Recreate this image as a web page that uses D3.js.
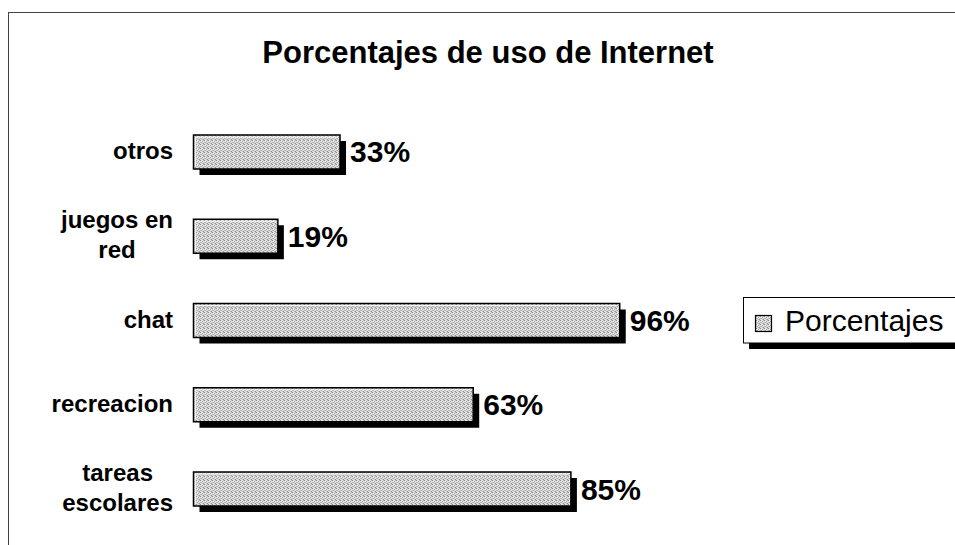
<!DOCTYPE html>
<html>
<head>
<meta charset="utf-8">
<script src="https://cdn.jsdelivr.net/npm/d3@7/dist/d3.min.js"></script>
<style>
  html, body { margin: 0; padding: 0; background: #fff; }
  svg { display: block; }
  text { font-family: "Liberation Sans", Arial, sans-serif; fill: #000; }
</style>
</head>
<body>
<svg id="chart" width="955" height="545"></svg>
<script>
// ---- data (top to bottom as drawn) ----
const categories = ["otros", "juegos en red", "chat", "recreacion", "tareas escolares"];
const values = [33, 19, 96, 63, 85];
const valueLabels = ["33%", "19%", "96%", "63%", "85%"];
const seriesName = "Porcentajes";
const title = "Porcentajes de uso de Internet";

const svg = d3.select("#chart");

// dither-like gray pattern (fixed 4x4 ordered stipple)
const defs = svg.append("defs");
const pat = defs.append("pattern").attr("id", "dither")
  .attr("width", 4).attr("height", 4).attr("patternUnits", "userSpaceOnUse");
pat.append("rect").attr("width", 4).attr("height", 4).attr("fill", "#e2e2e2");
const dots = [[0,0,"#8a8a8a"],[2,1,"#9c9c9c"],[1,2,"#a4a4a4"],[3,3,"#909090"],[2,3,"#c0c0c0"],[0,2,"#b4b4b4"],[3,0,"#bcbcbc"],[1,1,"#f4f4f4"]];
dots.forEach(d => pat.append("rect").attr("x", d[0]).attr("y", d[1]).attr("width", 1).attr("height", 1).attr("fill", d[2]));

// chart frame
svg.append("rect").attr("x", 8.5).attr("y", 12.5).attr("width", 1000).attr("height", 600)
  .attr("fill", "none").attr("stroke", "#444").attr("stroke-width", 1);

// title
svg.append("text").attr("x", 488).attr("y", 63).attr("text-anchor", "middle")
  .style("font-size", "31px").style("font-weight", "bold").text(title);

// scales
const x = d3.scaleLinear().domain([0, 100]).range([193.5, 637.5]);
const y = d3.scaleBand().domain(categories).range([84.75, 556.25]).padding(0.5964);

const shadow = 6;
const g = svg.append("g");

categories.forEach((c, i) => {
  const y0 = y(c), h = y.bandwidth(), x0 = x(0), w = x(values[i]) - x(0);
  // shadow
  g.append("rect").attr("x", x0 + shadow).attr("y", y0 + shadow)
    .attr("width", w).attr("height", h).attr("fill", "#000");
  // bar
  g.append("rect").attr("x", x0).attr("y", y0).attr("width", w).attr("height", h)
    .attr("fill", "url(#dither)").attr("stroke", "#000").attr("stroke-width", 1.5);
  // inner highlight
  g.append("path")
    .attr("d", `M${x0 + 2},${y0 + h - 2} V${y0 + 2} H${x0 + w - 2}`)
    .attr("fill", "none").attr("stroke", "#fff").attr("stroke-width", 1.2).attr("opacity", 0.8);
  // value label
  g.append("text").attr("x", x(values[i]) + 10).attr("y", y0 + h / 2).attr("dy", "0.35em")
    .style("font-size", "30px").style("font-weight", "bold").text(valueLabels[i]);
});

// category labels (wrapped, right aligned block, centered lines)
const labelRight = 173, maxW = 118, lineH = 30;
categories.forEach((c) => {
  const t = svg.append("text").style("font-size", "24px").style("font-weight", "bold")
    .attr("text-anchor", "middle");
  const words = c.split(" ");
  const lines = [];
  let cur = [];
  const probe = svg.append("text").style("font-size", "24px").style("font-weight", "bold");
  words.forEach(wd => {
    const test = cur.concat([wd]).join(" ");
    probe.text(test);
    if (probe.node().getComputedTextLength() > maxW && cur.length) {
      lines.push(cur.join(" "));
      cur = [wd];
    } else cur.push(wd);
  });
  lines.push(cur.join(" "));
  let widest = 0;
  lines.forEach(l => { probe.text(l); widest = Math.max(widest, probe.node().getComputedTextLength()); });
  probe.remove();
  const cx = labelRight - widest / 2;
  const cy = y(c) + y.bandwidth() / 2;
  const startY = cy - (lines.length - 1) * lineH / 2;
  lines.forEach((l, k) => {
    t.append("tspan").attr("x", cx).attr("y", startY + k * lineH).attr("dy", "0.3em").text(l);
  });
});

// legend
const lg = svg.append("g");
lg.append("rect").attr("x", 749).attr("y", 303).attr("width", 240).attr("height", 46).attr("fill", "#000");
lg.append("rect").attr("x", 743.5).attr("y", 297.5).attr("width", 240).attr("height", 45.5)
  .attr("fill", "#fff").attr("stroke", "#000").attr("stroke-width", 1);
lg.append("rect").attr("x", 755.5).attr("y", 315.5).attr("width", 16).attr("height", 16)
  .attr("fill", "url(#dither)").attr("stroke", "#000").attr("stroke-width", 1.2);
lg.append("text").attr("x", 785).attr("y", 320).attr("dy", "0.35em")
  .style("font-size", "30px").text(seriesName);
</script>
</body>
</html>
